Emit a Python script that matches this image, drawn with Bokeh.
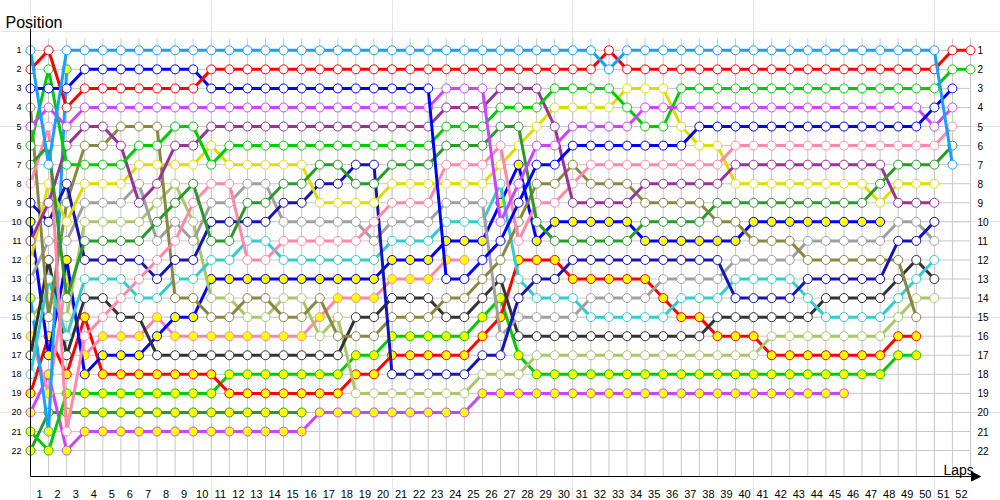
from bokeh.plotting import figure
from bokeh.models import Range1d, Arrow, NormalHead
from bokeh.embed import file_html
from bokeh.resources import INLINE
from bokeh.core.properties import value

FONT = "Liberation Sans"

lap_labels = ["1", "2", "3", "4", "5", "6", "7", "8", "9", "10", "11", "12", "13",
              "14", "15", "16", "17", "18", "19", "20", "21", "22", "23", "24", "25",
              "26", "27", "28", "29", "30", "31", "32", "33", "34", "35", "36", "37",
              "38", "39", "40", "41", "42", "43", "44", "45", "46", "47", "48", "49",
              "50", "51", "52"]
positions = [1, 2, 3, 4, 5, 6, 7, 8, 9, 10, 11, 12, 13, 14, 15, 16, 17, 18, 19, 20, 21, 22]
position_labels = ["1", "2", "3", "4", "5", "6", "7", "8", "9", "10", "11",
                   "12", "13", "14", "15", "16", "17", "18", "19", "20", "21", "22"]

# positions per lap index (index 0 = start)
light_blue = [1, 7, 1, 1, 1, 1, 1, 1, 1, 1,
              1, 1, 1, 1, 1, 1, 1, 1, 1, 1,
              1, 1, 1, 1, 1, 1, 1, 1, 1, 1,
              1, 1, 2, 1, 1, 1, 1, 1, 1, 1,
              1, 1, 1, 1, 1, 1, 1, 1, 1, 1,
              1, 7]
red = [2, 1, 4, 3, 3, 3, 3, 3, 3, 3,
       2, 2, 2, 2, 2, 2, 2, 2, 2, 2,
       2, 2, 2, 2, 2, 2, 2, 2, 2, 2,
       2, 2, 1, 2, 2, 2, 2, 2, 2, 2,
       2, 2, 2, 2, 2, 2, 2, 2, 2, 2,
       2, 1, 1]
blue = [3, 3, 3, 2, 2, 2, 2, 2, 2, 2,
        3, 3, 3, 3, 3, 3, 3, 3, 3, 3,
        3, 3, 3, 13, 13, 12, 11, 9, 7, 7,
        6, 6, 6, 6, 6, 6, 6, 5, 5, 5,
        5, 5, 5, 5, 5, 5, 5, 5, 5, 5,
        4, 3]
magenta = [5, 4, 5, 4, 4, 4, 4, 4, 4, 4,
           4, 4, 4, 4, 4, 4, 4, 4, 4, 4,
           4, 4, 4, 3, 3, 3, 10, 8, 6, 6,
           5, 5, 5, 5, 4, 4, 4, 4, 4, 4,
           4, 4, 4, 4, 4, 4, 4, 4, 4, 4,
           5, 4]
purple = [11, 9, 6, 5, 5, 6, 9, 8, 6, 6,
          5, 5, 5, 5, 5, 5, 5, 5, 5, 5,
          5, 5, 5, 4, 4, 4, 3, 3, 3, 5,
          9, 9, 9, 9, 8, 8, 8, 8, 8, 7,
          7, 7, 7, 7, 7, 7, 7, 7, 9, 9,
          9]
green = [6, 2, 7, 7, 7, 7, 6, 6, 5, 5,
         7, 6, 6, 6, 6, 6, 6, 6, 6, 6,
         6, 6, 6, 5, 5, 5, 4, 4, 4, 3,
         3, 3, 3, 4, 5, 5, 3, 3, 3, 3,
         3, 3, 3, 3, 3, 3, 3, 3, 3, 3,
         3, 2, 2]
yellow = [12, 8, 10, 8, 8, 8, 7, 7, 7, 7,
          6, 7, 7, 7, 7, 7, 9, 9, 9, 9,
          8, 8, 8, 8, 8, 8, 7, 6, 5, 4,
          4, 4, 4, 3, 3, 3, 5, 6, 6, 8,
          8, 8, 8, 8, 8, 8, 8, 9, 8, 8,
          8]
dark_green = [7, 6, 14, 11, 11, 11, 11, 10, 9, 8,
              11, 11, 9, 9, 8, 8, 7, 7, 8, 8,
              7, 7, 7, 6, 6, 6, 5, 5, 10, 11,
              11, 11, 11, 11, 10, 10, 10, 10, 9, 9,
              9, 9, 9, 9, 9, 9, 9, 8, 7, 7,
              7, 6]
dark_blue = [9, 10, 8, 12, 12, 12, 12, 13, 12, 12,
             10, 10, 10, 10, 9, 9, 8, 8, 7, 7,
             18, 18, 18, 18, 18, 17, 17, 14, 13, 13,
             12, 12, 12, 12, 12, 12, 12, 12, 12, 14,
             14, 14, 14, 13, 13, 13, 13, 13, 11, 11,
             10]
pink = [8, 5, 21, 16, 15, 14, 13, 12, 11, 9,
        8, 8, 12, 12, 11, 11, 11, 11, 11, 10,
        9, 9, 9, 7, 7, 7, 6, 11, 9, 9,
        8, 7, 7, 7, 7, 7, 7, 7, 7, 6,
        6, 6, 6, 6, 6, 6, 6, 6, 6, 6,
        6, 5]
grey = [13, 11, 11, 9, 9, 9, 8, 11, 10, 11,
        9, 9, 8, 8, 10, 10, 10, 10, 10, 11,
        10, 10, 10, 9, 9, 9, 16, 15, 15, 15,
        15, 14, 14, 14, 14, 13, 13, 13, 13, 12,
        12, 12, 12, 11, 11, 11, 11, 11, 10, 10,
        11]
cyan = [18, 13, 16, 13, 13, 13, 14, 14, 13, 13,
        12, 12, 11, 11, 12, 12, 12, 12, 12, 12,
        11, 11, 11, 10, 10, 10, 8, 13, 14, 14,
        14, 15, 15, 15, 15, 15, 14, 14, 14, 13,
        13, 13, 13, 14, 15, 15, 15, 15, 14, 13,
        12]
charcoal = [17, 12, 17, 14, 14, 15, 15, 17, 17, 17,
            17, 17, 17, 17, 17, 17, 17, 17, 15, 15,
            14, 14, 14, 15, 15, 14, 13, 16, 16, 16,
            16, 16, 16, 16, 16, 16, 16, 16, 15, 15,
            15, 15, 15, 15, 14, 14, 14, 14, 13, 12,
            13]
light_olive = [15, 14, 15, 10, 10, 10, 10, 9, 8, 10,
               14, 14, 15, 15, 14, 14, 16, 15, 19, 19,
               19, 19, 19, 19, 19, 18, 18, 18, 17, 17,
               17, 17, 17, 17, 17, 17, 17, 17, 17, 17,
               17, 16, 16, 16, 16, 16, 16, 16, 15, 14,
               14]
olive = [4, 15, 9, 6, 6, 5, 5, 5, 14, 14,
         15, 15, 14, 14, 15, 15, 14, 16, 16, 16,
         15, 15, 15, 14, 14, 13, 12, 10, 8, 8,
         7, 8, 8, 8, 9, 9, 9, 9, 10, 10,
         11, 11, 11, 12, 12, 12, 12, 12, 12, 15]
blue_b = [10, 17, 12, 18, 17, 17, 17, 16, 15, 15,
          13, 13, 13, 13, 13, 13, 13, 13, 13, 13,
          12, 12, 12, 11, 11, 11, 9, 7, 11, 10,
          10, 10, 10, 10, 11, 11, 11, 11, 11, 11,
          10, 10, 10, 10, 10, 10, 10, 10]
pink_b = [16, 19, 13, 17, 16, 16, 16, 15, 16, 16,
          16, 16, 16, 16, 16, 16, 15, 14, 14, 14,
          13, 13, 13, 12, 12]
red_b = [19, 16, 18, 15, 18, 18, 18, 18, 18, 18,
         18, 19, 19, 19, 19, 19, 19, 19, 18, 18,
         17, 17, 17, 17, 17, 16, 15, 12, 12, 12,
         13, 13, 13, 13, 13, 14, 15, 15, 16, 16,
         16, 17, 17, 17, 17, 17, 17, 17, 16, 16]
green_b = [21, 22, 19, 19, 19, 19, 19, 19, 19, 19,
           19, 18, 18, 18, 18, 18, 18, 18, 17, 17,
           16, 16, 16, 16, 16, 15, 14, 17, 18, 18,
           18, 18, 18, 18, 18, 18, 18, 18, 18, 18,
           18, 18, 18, 18, 18, 18, 18, 18, 17, 17]
dark_green_b = [22, 20, 20, 20, 20, 20, 20, 20, 20, 20,
                20, 20, 20, 20, 20, 20]
magenta_b = [20, 18, 22, 21, 21, 21, 21, 21, 21, 21,
             21, 21, 21, 21, 21, 21, 20, 20, 20, 20,
             20, 20, 20, 20, 20, 19, 19, 19, 19, 19,
             19, 19, 19, 19, 19, 19, 19, 19, 19, 19,
             19, 19, 19, 19, 19, 19]
light_blue_b = [14, 21, 2]

WHITE = "#ffffff"
YEL = "#ffff00"
series = [
    (dark_green_b, "#2a9a2a", YEL),
    (magenta_b, "#cc44ff", YEL),
    (green_b, "#00cc00", YEL),
    (red_b, "#ff0000", YEL),
    (pink_b, "#ff88aa", YEL),
    (blue_b, "#0000ff", YEL),
    (light_blue_b, "#16a0ff", YEL),
    (light_olive, "#a8c868", WHITE),
    (charcoal, "#333333", WHITE),
    (cyan, "#33cccc", WHITE),
    (grey, "#a0a0a0", WHITE),
    (olive, "#888844", WHITE),
    (dark_blue, "#1414b8", WHITE),
    (yellow, "#dddd00", WHITE),
    (pink, "#ff88aa", WHITE),
    (purple, "#993399", WHITE),
    (dark_green, "#2a9a2a", WHITE),
    (green, "#00cc00", WHITE),
    (magenta, "#cc44ff", WHITE),
    (blue, "#0000ff", WHITE),
    (red, "#ff0000", WHITE),
    (light_blue, "#16a0ff", WHITE),
]

# geometry: pixel positions of the reference -> data units
W, H = 1000, 500
X0_PX, PX_X = 30.0, 18.077      # pixel x of lap index 0, pixels per lap
Y1_PX, PX_Y = 49.8, 19.06       # pixel y of position 1, pixels per position


def dx(px):
    return (px - X0_PX) / PX_X


def dy(py):
    return 1 + (py - Y1_PX) / PX_Y


n_laps = len(lap_labels)

p = figure(width=W, height=H, output_backend="svg", toolbar_location=None,
           x_range=Range1d(dx(0), dx(W)), y_range=Range1d(dy(H), dy(0)),
           x_axis_location=None, y_axis_location=None,
           min_border_left=0, min_border_right=0, min_border_top=0, min_border_bottom=0)
p.title.visible = False
p.outline_line_color = None
p.background_fill_color = "white"
p.border_fill_color = "white"

AX_Y = dy(476)
GRID_TOP = dy(38)

# grid
idx = list(range(n_laps + 1))
p.segment(x0=idx, y0=[GRID_TOP] * len(idx), x1=idx, y1=[AX_Y] * len(idx),
          line_color="#c8c8c8", line_width=1)
p.segment(x0=[0] * len(positions), y0=positions, x1=[n_laps] * len(positions), y1=positions,
          line_color="#c8c8c8", line_width=1)

# series
for data, col, fill in series:
    xs = list(range(len(data)))
    p.line(xs, data, line_color=col, line_width=3)
    p.scatter(xs, data, size=9, marker="circle", fill_color=fill, line_color=col, line_width=1)

# axis lines
p.segment(x0=[0], y0=[dy(28)], x1=[0], y1=[AX_Y], line_color="black", line_width=1)
p.segment(x0=[0], y0=[AX_Y], x1=[dx(972)], y1=[AX_Y], line_color="black", line_width=1)
p.add_layout(Arrow(end=NormalHead(size=9, fill_color="black", line_color="black"),
                   line_color="black", line_width=1,
                   x_start=dx(966), y_start=AX_Y, x_end=dx(980), y_end=AX_Y))

# tick labels
lx = [k + 0.5 for k in range(n_laps)]
p.text(x=lx, y=[dy(493)] * n_laps, text=lap_labels,
       text_font=value(FONT), text_font_size=value("11px"), text_align="center",
       text_baseline="alphabetic", text_color="black")

p.text(x=[dx(21)] * len(positions), y=positions, text=position_labels,
       text_font=value(FONT), text_font_size=value("9px"), text_align="right",
       text_baseline="middle", text_color="black")
p.text(x=[dx(977)] * len(positions), y=positions, text=position_labels,
       text_font=value(FONT), text_font_size=value("10px"), text_align="left",
       text_baseline="middle", text_color="black")

p.text(x=[dx(943)], y=[dy(469)], text=["Laps"],
       text_font=value(FONT), text_font_size=value("14px"), text_align="left",
       text_baseline="alphabetic", text_color="black")
p.text(x=[dx(5)], y=[dy(22)], text=["Position"],
       text_font=value(FONT), text_font_size=value("16px"), text_align="left",
       text_baseline="alphabetic", text_color="black")

open("out.html", "w").write(file_html(p, INLINE))
